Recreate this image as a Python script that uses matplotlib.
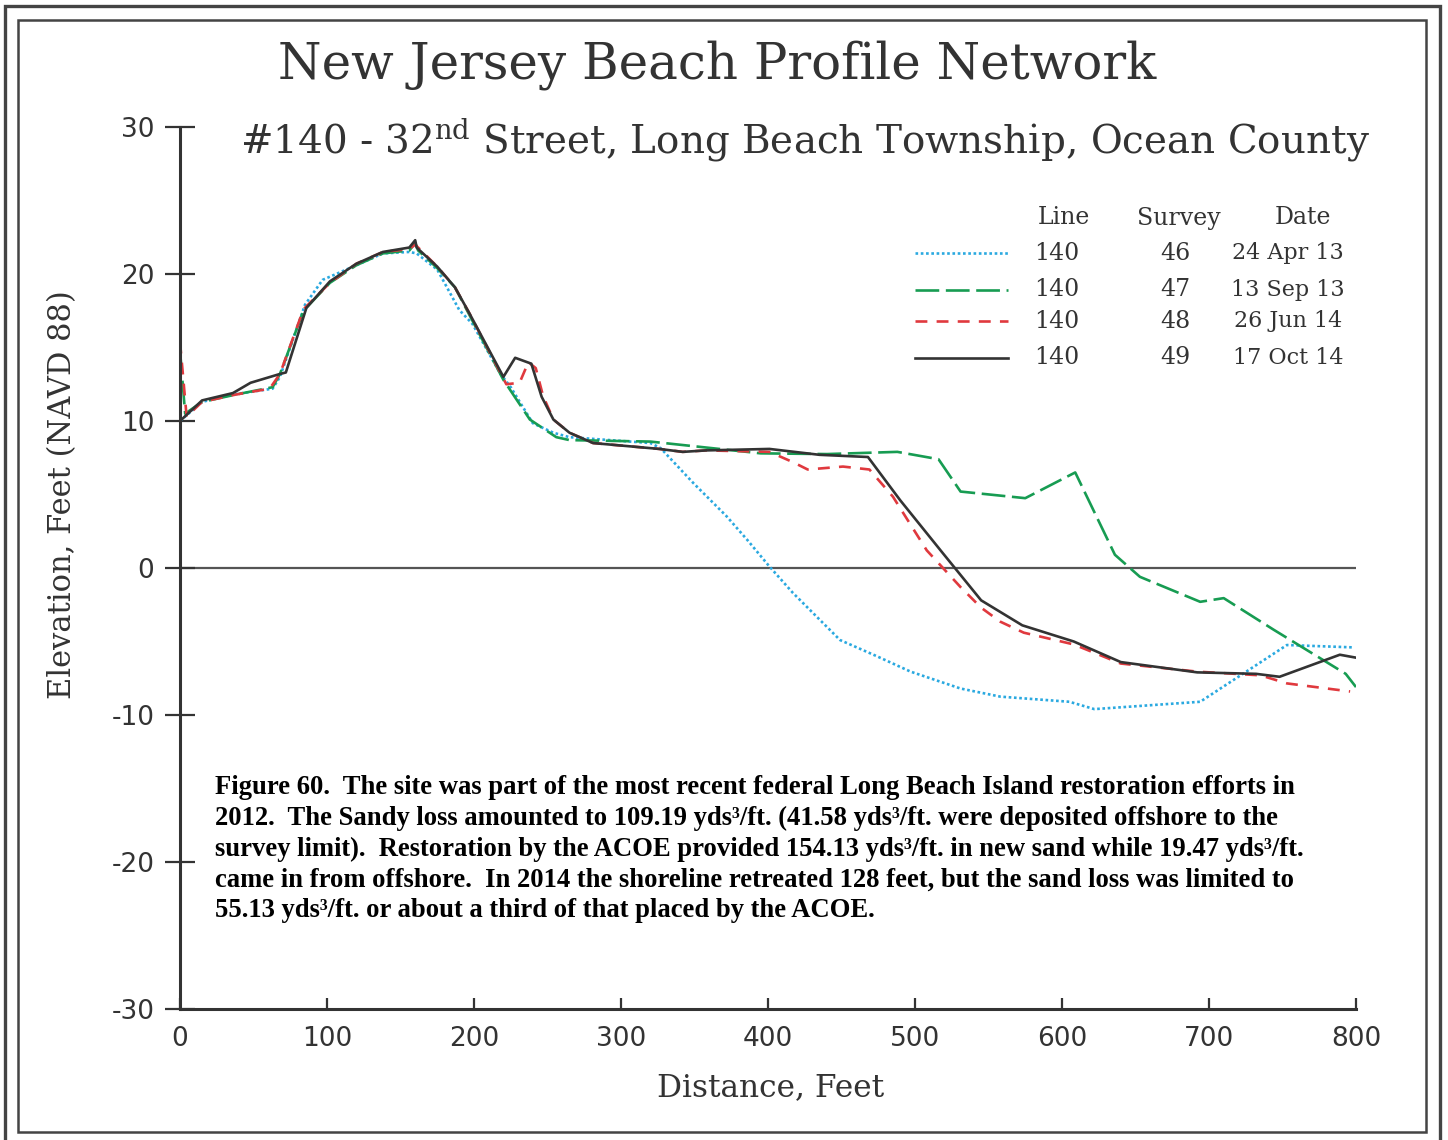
import matplotlib
matplotlib.use("Agg")
import matplotlib.pyplot as plt
import matplotlib.ticker as ticker
from matplotlib.lines import Line2D
from matplotlib.patches import Rectangle

# profile data (distance ft, elevation ft NAVD88)

x46 = [0, 15, 36, 63, 68, 85, 97, 120, 138, 156, 161, 175, 190, 199, 218, 225, 240, 254, 265,
       320, 327, 349, 372, 386, 401, 417, 435, 449, 474, 497, 531, 558, 605, 622, 694, 753, 798]
y46 = [10, 11.3, 11.8, 12.2, 13.0, 17.9, 19.6, 20.6, 21.4, 21.5, 21.4, 20.3, 17.55, 16.6, 13.2, 12.3, 9.85, 9.2, 8.9,
       8.5, 8.15, 5.8, 3.5, 1.9, 0.1, -1.7, -3.5, -4.9, -6.0, -7.05, -8.2, -8.75, -9.1, -9.6, -9.1, -5.24, -5.4]

x47 = [0, 3.5, 15, 38, 63, 68, 84, 102, 120, 138, 156, 160, 162, 175, 187, 220, 238, 256, 265,
       320, 395, 440, 488, 516, 531, 575, 609, 636, 653, 694, 710, 744, 793, 800]
y47 = [14.8, 10.5, 11.3, 11.8, 12.3, 13.2, 17.5, 19.4, 20.6, 21.4, 21.6, 22.1, 21.6, 20.4, 19.1, 12.8, 10.1, 8.9, 8.7,
       8.6, 7.8, 7.75, 7.9, 7.4, 5.2, 4.75, 6.5, 0.9, -0.6, -2.3, -2.05, -4.2, -7.2, -8.1]

x48 = [0, 4.5, 15, 38, 61, 68, 84, 102, 120, 138, 156, 160, 175, 187, 197, 222, 231, 237, 242, 247, 254, 265,
       281, 326, 342, 358, 401, 417, 427, 451, 469, 485, 508, 531, 545, 558, 574, 608, 640, 692, 735, 753, 796]
y48 = [15.4, 10.3, 11.3, 11.8, 12.2, 13.2, 17.6, 19.4, 20.7, 21.5, 21.7, 22.0, 20.5, 19.1, 17.3, 12.5, 12.6, 14.0, 13.6, 11.7, 10.1, 9.2,
       8.5, 8.1, 7.9, 8.0, 7.9, 7.2, 6.7, 6.9, 6.7, 4.85, 1.2, -1.3, -2.7, -3.65, -4.4, -5.2, -6.5, -7.05, -7.3, -7.85, -8.4]

x49 = [0, 15, 36, 48, 68, 72, 86, 102, 120, 138, 156, 160, 161, 175, 187, 197, 220, 228, 239, 246, 254, 265,
       281, 326, 342, 358, 401, 435, 468, 490, 519, 545, 573, 608, 640, 692, 732, 748, 789, 800]
y49 = [10, 11.4, 11.9, 12.6, 13.2, 13.3, 17.7, 19.5, 20.7, 21.5, 21.8, 22.3, 21.8, 20.5, 19.1, 17.3, 13.0, 14.3, 13.9, 11.65, 10.1, 9.2,
       8.5, 8.1, 7.9, 8.0, 8.1, 7.7, 7.55, 4.6, 1.0, -2.2, -3.9, -5.0, -6.4, -7.1, -7.2, -7.4, -5.9, -6.1]

lines = ["140", "140", "140", "140"]
surveys = ["46", "47", "48", "49"]
dates = ["24 Apr 13", "13 Sep 13", "26 Jun 14", "17 Oct 14"]

colors = ["#2aa9e0", "#179c52", "#e0393e", "#333333"]
styles = [(0, (1, 1)), (0, (9, 2.5)), (0, (4.5, 3.5)), "-"]

caption = [
    "Figure 60.  The site was part of the most recent federal Long Beach Island restoration efforts in",
    "2012.  The Sandy loss amounted to 109.19 yds\u00b3/ft. (41.58 yds\u00b3/ft. were deposited offshore to the",
    "survey limit).  Restoration by the ACOE provided 154.13 yds\u00b3/ft. in new sand while 19.47 yds\u00b3/ft.",
    "came in from offshore.  In 2014 the shoreline retreated 128 feet, but the sand loss was limited to",
    "55.13 yds\u00b3/ft. or about a third of that placed by the ACOE.",
]

plt.rcParams['axes.unicode_minus'] = False
plt.rcParams['mathtext.fontset'] = 'dejavuserif'

W, H = 1448, 1140
f = plt.figure(figsize=(W / 100, H / 100), dpi=100)

def fx(px):
    return px / W

def fy(py):
    return 1 - py / H

ax = f.add_axes([fx(180), fy(1009), fx(1356) - fx(180), fy(127) - fy(1009)])

ax.axhline(0, color="#555555", lw=1.6, zorder=1)
for xs, ys, c, ls in zip([x46, x47, x48, x49], [y46, y47, y48, y49], colors, styles):
    ax.plot(xs, ys, color=c, linestyle=ls, lw=1.9, zorder=2)

ax.set_xlim(0, 800)
ax.set_ylim(-30, 30)
ax.xaxis.set_major_locator(ticker.MultipleLocator(100))
ax.yaxis.set_major_locator(ticker.MultipleLocator(10))
for s in ["top", "right"]:
    ax.spines[s].set_visible(False)
for s in ["left", "bottom"]:
    ax.spines[s].set_linewidth(2.2)
    ax.spines[s].set_color("#333333")
ax.tick_params(axis="x", direction="in", length=8, width=1.6, color="#333333", pad=12,
               labelsize=19, labelcolor="#333333")
ax.tick_params(axis="y", direction="inout", length=21, width=1.6, color="#333333", pad=8,
               labelsize=19, labelcolor="#333333")

# axis labels
f.text(fx(771), fy(1088), "Distance, Feet", family="DejaVu Serif", fontsize=22.5,
       color="#333333", ha="center", va="center")
f.text(fx(63), fy(495), "Elevation, Feet (NAVD 88)", family="DejaVu Serif", fontsize=22,
       color="#333333", ha="center", va="center", rotation=90)

# titles
f.text(fx(717), fy(65), "New Jersey Beach Profile Network", family="DejaVu Serif",
       fontsize=35.9, color="#333333", ha="center", va="center")
f.text(fx(805), fy(140), r"#140 - 32$^{\rm nd}$ Street, Long Beach Township, Ocean County",
       family="DejaVu Serif", fontsize=28, color="#333333", ha="center", va="center")

# legend table
lfont = dict(family="DejaVu Serif", fontsize=17, color="#333333", va="center")
f.text(fx(1064), fy(218), "Line", ha="center", **lfont)
f.text(fx(1179), fy(218), "Survey", ha="center", **lfont)
f.text(fx(1303), fy(218), "Date", ha="center", **lfont)
rows_y = [253, 290, 321, 358]
for i in range(4):
    f.add_artist(Line2D([fx(915), fx(1008)], [fy(rows_y[i]), fy(rows_y[i])], transform=f.transFigure,
                        color=colors[i], linestyle=styles[i], lw=1.9))
    f.text(fx(1034), fy(rows_y[i]), lines[i], ha="left", **lfont)
    f.text(fx(1175), fy(rows_y[i]), surveys[i], ha="center", **lfont)
    f.text(fx(1288), fy(rows_y[i]), dates[i], ha="center", family="DejaVu Serif", fontsize=16,
           color="#333333", va="center")

# caption
for i, t in enumerate(caption):
    f.text(fx(215), fy(788 + i * 30.7), t, family="Liberation Serif", fontweight="bold",
           fontsize=19.2, color="black", ha="left", va="center")

# double frame
f.add_artist(Rectangle((fx(5), fy(1150)), fx(1440) - fx(5), fy(6) - fy(1150), transform=f.transFigure,
                       fill=False, edgecolor="#444444", lw=2.4))
f.add_artist(Rectangle((fx(18), fy(1132)), fx(1426) - fx(18), fy(20) - fy(1132), transform=f.transFigure,
                       fill=False, edgecolor="#444444", lw=1.8))

plt.savefig("out.png", dpi=100)
